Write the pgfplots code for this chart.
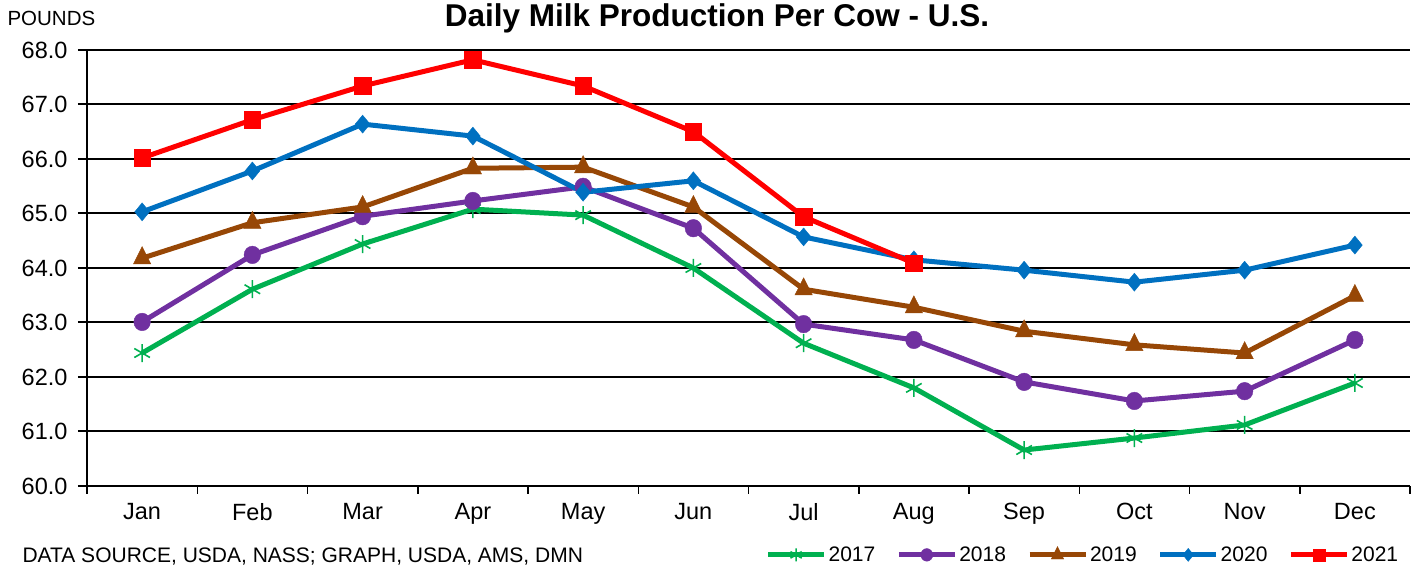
\documentclass[border=0pt]{standalone}
\usepackage{fontspec}
\setmainfont{Liberation Sans}
\usepackage{pgfplots}
\pgfplotsset{compat=1.18}
\definecolor{cg}{HTML}{00B050}
\definecolor{cp}{HTML}{7030A0}
\definecolor{cb}{HTML}{974706}
\definecolor{cl}{HTML}{0070C0}
\definecolor{cr}{HTML}{FF0000}
\begin{document}
\begin{tikzpicture}
\useasboundingbox (0,0) rectangle (1417pt,569pt);
\node[anchor=base,font=\fontsize{31.5}{34}\selectfont\bfseries] at (717pt,542pt) {Daily Milk Production Per Cow - U.S.};
\node[anchor=west,font=\fontsize{20.5}{24}\selectfont] at (4pt,551pt) {POUNDS};
\node[anchor=west,font=\fontsize{21}{24}\selectfont] at (19pt,12pt) {DATA SOURCE, USDA, NASS; GRAPH, USDA, AMS, DMN};
\begin{axis}[
  at={(87pt,83pt)}, anchor=south west,
  scale only axis, width=1323pt, height=436pt,
  xmin=-0.5, xmax=11.5, ymin=60, ymax=68,
  axis x line*=bottom, axis y line*=left,
  axis line style={line width=2pt,-},
  xtick={0,...,11},
  xticklabels={Jan,Feb,Mar,Apr,May,Jun,Jul,Aug,Sep,Oct,Nov,Dec},
  minor xtick={-0.5,0.5,...,11.5},
  major x tick style={draw=none},
  minor x tick style={line width=1.5pt,black},
  minor tick length=8pt,
  ytick={60,61,...,68},
  major tick length=9pt,
  tick align=outside,
  y tick style={line width=2pt,black},
  ymajorgrids, grid style={line width=2pt,black},
  /pgf/number format/fixed,
  /pgf/number format/fixed zerofill,
  /pgf/number format/precision=1,
  /pgf/number format/assume math mode=true,
  ticklabel style={font=\fontsize{23.5}{27}\selectfont},
  xticklabel style={yshift=-5pt},
  yticklabel style={xshift=-7pt},
  every axis plot/.append style={line width=5pt},
  legend columns=5,
  legend style={draw=none,fill=none,at={(0.995,-0.158)},anchor=east,
    font=\fontsize{21}{24}\selectfont,
    /tikz/every even column/.append style={column sep=19pt}},
  legend image code/.code={\draw[mark repeat=2,mark phase=2,every mark/.append style={scale=0.72}] plot coordinates {(0pt,0pt)(28pt,0pt)(56pt,0pt)};},
]
\addplot[color=cg,mark=asterisk,mark size=9pt,mark options={solid,line width=1.6pt}] coordinates {
(0,62.44)(1,63.61)(2,64.44)(3,65.08)(4,64.97)(5,64.00)(6,62.62)(7,61.80)(8,60.66)(9,60.88)(10,61.12)(11,61.89)};
\addlegendentry{2017}
\addplot[color=cp,mark=*,mark size=8.3pt,mark options={solid,line width=0.4pt,yscale=1.06}] coordinates {
(0,63.01)(1,64.24)(2,64.95)(3,65.23)(4,65.49)(5,64.73)(6,62.97)(7,62.68)(8,61.91)(9,61.56)(10,61.74)(11,62.68)};
\addlegendentry{2018}
\addplot[color=cb,mark=triangle*,mark size=10pt,mark options={solid,line width=0.4pt,yscale=1.15}] coordinates {
(0,64.18)(1,64.83)(2,65.12)(3,65.83)(4,65.85)(5,65.12)(6,63.61)(7,63.28)(8,62.84)(9,62.59)(10,62.44)(11,63.49)};
\addlegendentry{2019}
\addplot[color=cl,mark=diamond*,mark size=9pt,mark options={solid,line width=0.4pt,xscale=1.1}] coordinates {
(0,65.03)(1,65.78)(2,66.64)(3,66.42)(4,65.39)(5,65.60)(6,64.57)(7,64.15)(8,63.96)(9,63.74)(10,63.96)(11,64.42)};
\addlegendentry{2020}
\addplot[color=cr,mark=square*,mark size=8.3pt,mark options={solid,line width=0.4pt}] coordinates {
(0,66.02)(1,66.72)(2,67.34)(3,67.82)(4,67.34)(5,66.50)(6,64.94)(7,64.09)};
\addlegendentry{2021}
\end{axis}
\end{tikzpicture}
\end{document}
